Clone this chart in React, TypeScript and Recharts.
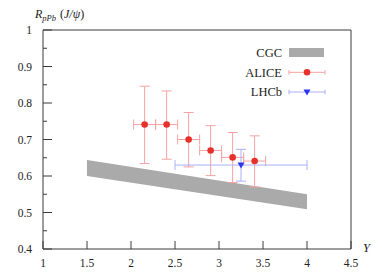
import { ComposedChart, Area, Scatter, XAxis, YAxis, ErrorBar, Legend, Label } from 'recharts';

// axis ticks
const xTicks = [1, 1.5, 2, 2.5, 3, 3.5, 4, 4.5];
const yTicks = [0.4, 0.45, 0.5, 0.55, 0.6, 0.65, 0.7, 0.75, 0.8, 0.85, 0.9, 0.95, 1];

// CGC band (rapidity, lower / upper edge)
const cgcRap = [1.5, 4];
const cgcLow = [0.6, 0.509];
const cgcHigh = [0.644, 0.55];

// ALICE points
const aliceRap = [2.155, 2.405, 2.655, 2.905, 3.155, 3.405];
const aliceR = [0.741, 0.741, 0.7, 0.67, 0.651, 0.641];
const aliceErrUp = [0.105, 0.092, 0.074, 0.068, 0.068, 0.069];
const aliceErrDown = [0.107, 0.095, 0.075, 0.069, 0.069, 0.071];
const aliceRapErr = [0.125, 0.125, 0.125, 0.125, 0.125, 0.125];

// LHCb point
const lhcbRap = [3.25];
const lhcbR = [0.63];
const lhcbErrUp = [0.043];
const lhcbErrDown = [0.044];
const lhcbRapErr = [0.75];

const bandData = cgcRap.map((x, i) => ({ x, band: [cgcLow[i], cgcHigh[i]] }));
const aliceData = aliceRap.map((x, i) => ({
  x,
  y: aliceR[i],
  ex: [aliceRapErr[i], aliceRapErr[i]],
  ey: [aliceErrDown[i], aliceErrUp[i]],
}));
const lhcbData = lhcbRap.map((x, i) => ({
  x,
  y: lhcbR[i],
  ex: [lhcbRapErr[i], lhcbRapErr[i]],
  ey: [lhcbErrDown[i], lhcbErrUp[i]],
}));

const FONT = '"Liberation Serif", "DejaVu Serif", serif';
const AXIS = '#3a3a3a';
const RED = '#e8302b';
const RED_LIGHT = '#f4a3a3';
const BLUE = '#2a35ee';
const BLUE_LIGHT = '#aab0f6';

const isMajor = (v: number) => Math.round(v * 100) % 10 === 0;

function BottomTick({ x, y, payload }: any) {
  return (
    <g>
      <line x1={x} x2={x} y1={y} y2={y - 8} stroke={AXIS} />
      <text x={x} y={y + 18} textAnchor="middle" fontFamily={FONT} fontSize={11.5} fill="#222">
        {payload.value}
      </text>
    </g>
  );
}

function TopTick({ x, y }: any) {
  return <line x1={x} x2={x} y1={y} y2={y + 8} stroke={AXIS} />;
}

function LeftTick({ x, y, payload }: any) {
  const major = isMajor(payload.value);
  return (
    <g>
      <line x1={x} x2={x + (major ? 9 : 4)} y1={y} y2={y} stroke={AXIS} />
      {major && (
        <text x={x - 11} y={y + 4} textAnchor="end" fontFamily={FONT} fontSize={11.5} fill="#222">
          {Math.round(payload.value * 10) / 10}
        </text>
      )}
    </g>
  );
}

function RightTick({ x, y, payload }: any) {
  const major = isMajor(payload.value);
  return <line x1={x} x2={x - (major ? 9 : 4)} y1={y} y2={y} stroke={AXIS} />;
}

function YTitle({ viewBox }: any) {
  const { x, y, width } = viewBox;
  return (
    <text x={x + width - 8} y={y - 12} fontFamily={FONT} fontSize={12} fill="#222">
      <tspan fontStyle="italic">R</tspan>
      <tspan fontStyle="italic" fontSize={8.5} dy={3}>pPb</tspan>
      <tspan dy={-3} dx={4}>(</tspan>
      <tspan fontStyle="italic">J/ψ</tspan>
      <tspan>)</tspan>
    </text>
  );
}

function XTitle({ viewBox }: any) {
  const { x, y, width } = viewBox;
  return (
    <text x={x + width + 12} y={y + 3} fontFamily={FONT} fontStyle="italic" fontSize={12.5} fill="#222">
      Y
    </text>
  );
}

function TriangleDown({ cx, cy }: any) {
  return <path d={`M${cx - 3.5},${cy - 2.5} L${cx + 3.5},${cy - 2.5} L${cx},${cy + 3.5} Z`} fill={BLUE} />;
}

function Dot({ cx, cy }: any) {
  return <circle cx={cx} cy={cy} r={3.3} fill={RED} />;
}

function LegendBox() {
  const t = { fontFamily: FONT, fontSize: 12.5, fill: '#222', textAnchor: 'end' as const };
  return (
    <svg width={120} height={64} style={{ display: 'block' }}>
      <text x={62} y={17} {...t}>CGC</text>
      <rect x={69} y={8} width={35} height={9} fill="#aaaaaa" />
      <text x={62} y={36.5} {...t}>ALICE</text>
      <line x1={69} x2={105} y1={32.3} y2={32.3} stroke={RED_LIGHT} />
      <line x1={69} x2={69} y1={30} y2={34.6} stroke={RED_LIGHT} />
      <line x1={105} x2={105} y1={30} y2={34.6} stroke={RED_LIGHT} />
      <Dot cx={87} cy={32.3} />
      <text x={62} y={56} {...t}>LHCb</text>
      <line x1={69} x2={105} y1={52} y2={52} stroke={BLUE_LIGHT} />
      <line x1={69} x2={69} y1={49.7} y2={54.3} stroke={BLUE_LIGHT} />
      <line x1={105} x2={105} y1={49.7} y2={54.3} stroke={BLUE_LIGHT} />
      <TriangleDown cx={87} cy={52} />
    </svg>
  );
}

export default function App() {
  return (
    <div style={{ position: 'absolute', left: 0, top: 0, background: '#fff' }}>
      <ComposedChart width={382} height={274} data={bandData} margin={{ top: 0, right: 0, bottom: 0, left: 0 }}>
        <XAxis
          dataKey="x"
          type="number"
          domain={[1, 4.5]}
          ticks={xTicks}
          height={25}
          tickSize={0}
          tickMargin={0}
          tick={<BottomTick />}
          axisLine={{ stroke: AXIS }}
          interval={0}
        >
          <Label content={<XTitle />} />
        </XAxis>
        <XAxis
          xAxisId="top"
          orientation="top"
          type="number"
          domain={[1, 4.5]}
          ticks={xTicks.slice(1, -1)}
          height={30}
          tickSize={0}
          tickMargin={0}
          tick={<TopTick />}
          axisLine={{ stroke: AXIS }}
          interval={0}
        />
        <YAxis
          dataKey="y"
          type="number"
          domain={[0.4, 1]}
          ticks={yTicks}
          width={43}
          tickSize={0}
          tickMargin={0}
          tick={<LeftTick />}
          axisLine={{ stroke: AXIS }}
          interval={0}
        >
          <Label content={<YTitle />} />
        </YAxis>
        <YAxis
          yAxisId="right"
          orientation="right"
          type="number"
          domain={[0.4, 1]}
          ticks={yTicks}
          width={31}
          tickSize={0}
          tickMargin={0}
          tick={<RightTick />}
          axisLine={{ stroke: AXIS }}
          interval={0}
        />
        <Legend
          layout="vertical"
          align="center"
          verticalAlign="middle"
          content={<LegendBox />}
          wrapperStyle={{ left: 220, top: 40, width: 120 }}
        />
        <Area
          dataKey="band"
          type="linear"
          fill="#aaaaaa"
          fillOpacity={1}
          stroke="none"
          name="CGC"
          isAnimationActive={false}
        />
        <Scatter data={aliceData} dataKey="y" name="ALICE" shape={<Dot />} isAnimationActive={false}>
          <ErrorBar dataKey="ex" direction="x" width={5} stroke={RED_LIGHT} strokeWidth={1} />
          <ErrorBar dataKey="ey" direction="y" width={5} stroke={RED_LIGHT} strokeWidth={1} />
        </Scatter>
        <Scatter data={lhcbData} dataKey="y" name="LHCb" shape={<TriangleDown />} isAnimationActive={false}>
          <ErrorBar dataKey="ex" direction="x" width={5} stroke={BLUE_LIGHT} strokeWidth={1} />
          <ErrorBar dataKey="ey" direction="y" width={5} stroke={BLUE_LIGHT} strokeWidth={1} />
        </Scatter>
      </ComposedChart>
    </div>
  );
}
